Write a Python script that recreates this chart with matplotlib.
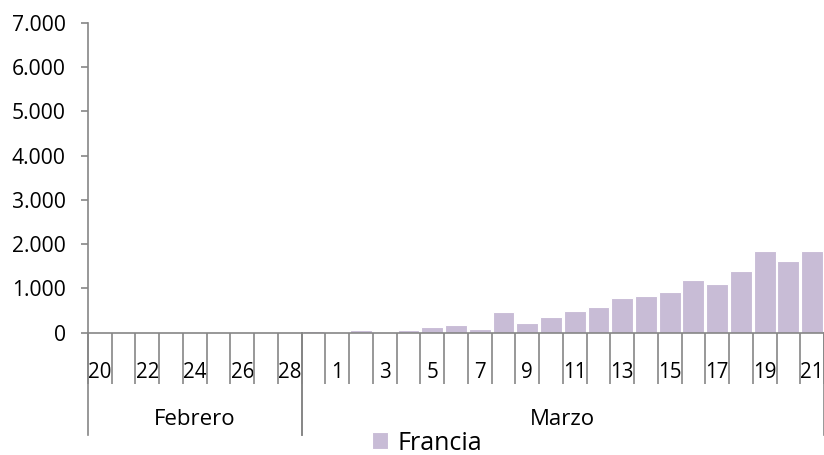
import matplotlib
matplotlib.use("Agg")
import matplotlib.pyplot as plt

plt.rcParams["font.family"] = ["Open Sans", "DejaVu Sans"]

# Daily values, 20 Feb .. 21 Mar (31 categories)
days = ["20", "21", "22", "23", "24", "25", "26", "27", "28",
        "29", "1", "2", "3", "4", "5", "6", "7", "8", "9", "10",
        "11", "12", "13", "14", "15", "16", "17", "18", "19", "20", "21"]
francia = [0, 0, 0, 0, 0, 0, 0, 0, 0,
           30, 0, 55, 0, 70, 135, 175, 90, 465, 210, 360,
           490, 590, 775, 835, 920, 1200, 1100, 1400, 1850, 1610, 1840]
# month groups: (label, first index, last index)
months = [("Febrero", 0, 8), ("Marzo", 9, 30)]
# every other category gets a label
shown_labels = {i: days[i] for i in range(0, 31, 2)}
yticks = [0, 1000, 2000, 3000, 4000, 5000, 6000, 7000]
ytick_labels = ["0", "1.000", "2.000", "3.000", "4.000", "5.000", "6.000", "7.000"]

GRAY = "#868686"
BAR = "#C8BCD6"

fig = plt.figure(figsize=(8.24, 4.55), dpi=100)
ax = fig.add_axes([88 / 824, 122.3 / 455, 736 / 824, 310 / 455])

x = list(range(len(days)))
ax.bar(x, francia, width=0.92, color=BAR, edgecolor="white", linewidth=0.8,
       label="Francia", zorder=2)

ax.set_xlim(-0.5, len(days) - 0.5)
ax.set_ylim(0, 7000)
ax.set_yticks(yticks)
ax.set_yticklabels(ytick_labels, fontsize=15.2)
ax.tick_params(axis="y", length=5, width=1.2, color=GRAY, pad=11)

ax.set_xticks(list(shown_labels.keys()))
ax.set_xticklabels(list(shown_labels.values()), fontsize=14.8)
ax.tick_params(axis="x", length=0, pad=21)
ax.set_xticks([i - 0.5 for i in range(len(days) + 1)], minor=True)
ax.tick_params(axis="x", which="minor", length=37, width=1.2, color=GRAY,
               direction="out")

for side in ("top", "right"):
    ax.spines[side].set_visible(False)
for side in ("left", "bottom"):
    ax.spines[side].set_color(GRAY)
    ax.spines[side].set_linewidth(1.2)

# month group brackets and labels
trans = ax.get_xaxis_transform()
for name, a, b in months:
    for xb in (a - 0.5, b + 0.5):
        ax.plot([xb, xb], [0, -(435 - 333) / 310], color=GRAY, lw=1.2,
                transform=trans, clip_on=False)
    ax.text((a + b) / 2, -(420 - 333) / 310, name, transform=trans,
            ha="center", va="center", fontsize=16)

ax.legend(loc="center left", bbox_to_anchor=(372 / 824, 1 - 443 / 455),
          bbox_transform=fig.transFigure, frameon=False, fontsize=18,
          handlelength=0.64, handleheight=0.64, handletextpad=0.36,
          borderpad=0, borderaxespad=0)

fig.savefig("out.png", dpi=100)
